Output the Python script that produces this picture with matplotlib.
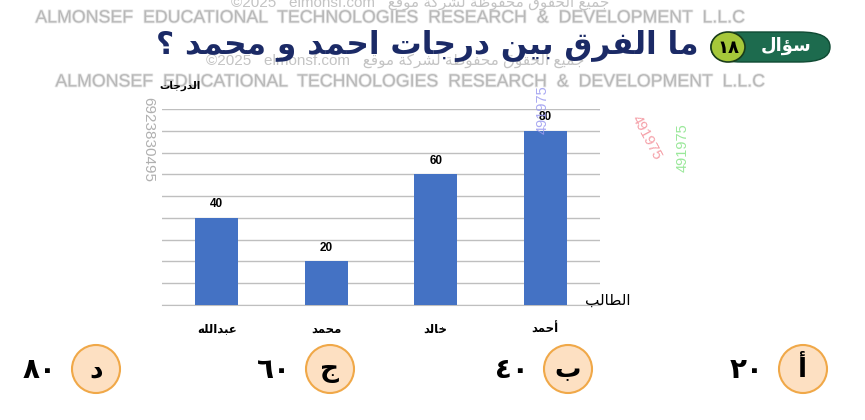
import matplotlib
matplotlib.use('Agg')
import matplotlib.pyplot as plt
from matplotlib.patches import FancyBboxPatch, Ellipse
import matplotlib.patheffects as pe

# --- data ---
students = ['عبدالله', 'محمد', 'خالد', 'أحمد']
scores = [40, 20, 60, 80]
value_labels = ['40', '20', '60', '80']
title = 'ما الفرق بين درجات احمد و محمد ؟'
y_title = 'الدرجات'
x_title = 'الطالب'
badge_word = 'سؤال'
badge_num = '١٨'
choice_letters = ['أ', 'ب', 'ج', 'د']
choice_values = ['٢٠', '٤٠', '٦٠', '٨٠']

# --- tiny arabic shaper (presentation forms + reversed for LTR drawing) ---
TWO = {'آ': 0xFE81, 'أ': 0xFE83, 'ؤ': 0xFE85, 'إ': 0xFE87, 'ا': 0xFE8D, 'ة': 0xFE93,
       'د': 0xFEA9, 'ذ': 0xFEAB, 'ر': 0xFEAD, 'ز': 0xFEAF, 'و': 0xFEED, 'ى': 0xFEEF}
FOUR = {'ئ': 0xFE89, 'ب': 0xFE8F, 'ت': 0xFE95, 'ث': 0xFE99, 'ج': 0xFE9D, 'ح': 0xFEA1,
        'خ': 0xFEA5, 'س': 0xFEB1, 'ش': 0xFEB5, 'ص': 0xFEB9, 'ض': 0xFEBD, 'ط': 0xFEC1,
        'ظ': 0xFEC5, 'ع': 0xFEC9, 'غ': 0xFECD, 'ف': 0xFED1, 'ق': 0xFED5, 'ك': 0xFED9,
        'ل': 0xFEDD, 'م': 0xFEE1, 'ن': 0xFEE5, 'ه': 0xFEE9, 'ي': 0xFEF1}
LAM_ALEF = {'آ': 0xFEF5, 'أ': 0xFEF7, 'إ': 0xFEF9, 'ا': 0xFEFB}


def ar(text):
    toks = []
    i = 0
    while i < len(text):
        c = text[i]
        if c == 'ل' and i + 1 < len(text) and text[i + 1] in LAM_ALEF:
            toks.append((None, LAM_ALEF[text[i + 1]], 2))
            i += 2
            continue
        if c in FOUR:
            toks.append((c, FOUR[c], 4))
        elif c in TWO:
            toks.append((c, TWO[c], 2))
        elif c == 'ء':
            toks.append((c, 0xFE80, 1))
        else:
            toks.append((c, None, 0))
        i += 1
    out = []
    for k, (c, base, n) in enumerate(toks):
        if base is None:
            out.append(c)
            continue
        prev = k > 0 and toks[k - 1][2] == 4
        nxt = n == 4 and k + 1 < len(toks) and toks[k + 1][2] >= 2
        if n == 1:
            idx = 0
        elif n == 2:
            idx = 1 if prev else 0
        else:
            idx = 3 if (prev and nxt) else 1 if prev else 2 if nxt else 0
        out.append(chr(base + idx))
    return ''.join(reversed(out))


W, H = 865, 420


def px(x, y):
    return x / W, 1 - y / H


AR = ['DejaVu Sans']

fig = plt.figure(figsize=(8.65, 4.2), dpi=100)
fig.patch.set_facecolor('white')

# chart
ax = fig.add_axes([162 / W, 1 - 305 / H, 438 / W, 196 / H])
x = range(len(students))
bars = ax.bar(x, scores, width=0.39, color='#4472C4', zorder=3)
ax.set_xlim(-0.5, 3.5)
ax.set_ylim(0, 90)
ax.set_yticks(range(0, 91, 10))
ax.yaxis.grid(True, color='#bfbfbf', linewidth=1.0, zorder=0)
ax.tick_params(left=False, labelleft=False, bottom=False)
for s in ['left', 'right', 'top']:
    ax.spines[s].set_visible(False)
ax.spines['bottom'].set_color('#bfbfbf')
ax.set_xticks(list(x))
ax.set_xticklabels([ar(s) for s in students], family=AR, fontweight='bold', fontsize=8.5)
ax.tick_params(axis='x', pad=9)
for b, lab in zip(bars, value_labels):
    ax.text(b.get_x() + b.get_width() / 2, b.get_height() + 3.5, lab,
            ha='center', va='bottom', fontsize=8.5, fontweight='bold', family='Liberation Sans')

fig.text(*px(608, 300), ar(x_title), ha='center', va='center', fontsize=11, family=AR)
fig.text(*px(180, 86), ar(y_title), ha='center', va='center', fontsize=7.5,
         fontweight='bold', family=AR)

# watermarks
wm = 'ALMONSEF  EDUCATIONAL  TECHNOLOGIES  RESEARCH  &  DEVELOPMENT  L.L.C'
for (wx, wy) in [(390, 18), (410, 82)]:
    fig.text(*px(wx, wy), wm, ha='center', va='center', fontsize=12.8,
             family='Liberation Sans', color='#b8b8b8', zorder=1,
             path_effects=[pe.withStroke(linewidth=1.2, foreground='#e6e6e6')])
wm2 = '©2025   elmonsf.com   ' + ar('جميع الحقوق محفوظة لشركة موقع')
for (wx, wy) in [(420, 3), (395, 61)]:
    fig.text(*px(wx, wy), wm2, ha='center', va='center', fontsize=11,
             family=['Liberation Sans', 'DejaVu Sans'], color='#c4c4c4', zorder=1)
fig.text(*px(148, 140), '6923830495', rotation=-90, ha='center', va='center',
         fontsize=11, family='Liberation Sans', color='#b0b0b0', zorder=1)
fig.text(*px(543, 110), '491975', rotation=90, ha='center', va='center',
         fontsize=10.5, family='Liberation Sans', color='#9b9bf0', alpha=0.85, zorder=6)
fig.text(*px(647, 138), '491975', rotation=-62, ha='center', va='center',
         fontsize=10.5, family='Liberation Sans', color='#f5a0a8', zorder=1)
fig.text(*px(683, 148), '491975', rotation=90, ha='center', va='center',
         fontsize=10.5, family='Liberation Sans', color='#9be89b', zorder=1)

# title
fig.text(*px(427, 46), ar(title), ha='center', va='center', fontsize=22.5,
         fontweight='bold', family=AR, color='#1b2a66', zorder=5)

# badge
badge = FancyBboxPatch(px(711, 62), 119 / W, 30 / H,
                       boxstyle='round,pad=0,rounding_size=0.035',
                       transform=fig.transFigure, facecolor='#1d6b4e',
                       edgecolor='#0f4a33', linewidth=1, zorder=4)
fig.add_artist(badge)
fig.add_artist(Ellipse(px(728, 47), 34 / W, 30 / H, transform=fig.transFigure,
                       facecolor='#a6c83a', edgecolor='#1a3d1a', linewidth=1.2, zorder=5))
fig.text(*px(728, 48), badge_num, ha='center', va='center', fontsize=13,
         fontweight='bold', family=AR, color='black', zorder=6)
fig.text(*px(786, 46), ar(badge_word), ha='center', va='center', fontsize=13,
         fontweight='bold', family=AR, color='white', zorder=6)

# answer choices
circle_x = [803, 568, 330, 96]
for cx, letter, val in zip(circle_x, choice_letters, choice_values):
    fig.add_artist(Ellipse(px(cx, 369), 48 / W, 48 / H, transform=fig.transFigure,
                           facecolor='#fde0c2', edgecolor='#f0a848', linewidth=1.5, zorder=4))
    fig.text(*px(cx, 370), ar(letter), ha='center', va='center', fontsize=19,
             fontweight='bold', family=AR, zorder=5)
    fig.text(*px(cx - 56, 370), val, ha='center', va='center', fontsize=20,
             fontweight='bold', family=AR, zorder=5)

fig.savefig('out.png', dpi=100, facecolor='white')
